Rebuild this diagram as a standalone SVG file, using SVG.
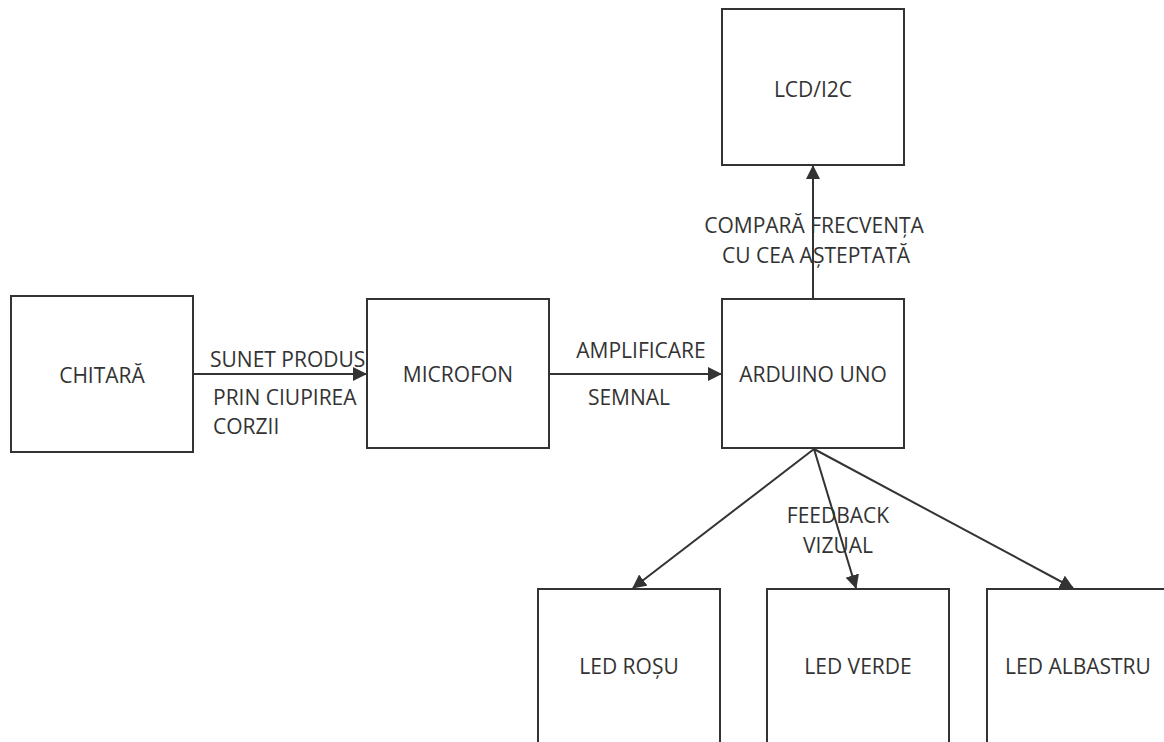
<svg xmlns="http://www.w3.org/2000/svg" width="1164" height="742" viewBox="0 0 1164 742">
<defs>
<style>
.box{fill:#fff;stroke:#333;stroke-width:2}
.t{font-family:"Open Sans","Liberation Sans",sans-serif;font-size:21px;fill:#333}
.c{text-anchor:middle}
.ln{stroke:#333;stroke-width:2;fill:none;marker-end:url(#ah)}
</style>
<marker id="ah" viewBox="0 0 14 14" refX="13" refY="7" markerWidth="14" markerHeight="14" markerUnits="userSpaceOnUse" orient="auto">
<path d="M0,0 L14,7 L0,14 z" fill="#333"/>
</marker>
</defs>
<rect width="1164" height="742" fill="#fff"/>
<g id="connectors">
<line class="ln" x1="193" y1="374" x2="366" y2="374"/>
<line class="ln" x1="549" y1="374" x2="721" y2="374"/>
<line class="ln" x1="813" y1="299" x2="813" y2="166"/>
<line class="ln" x1="814" y1="449" x2="633" y2="588"/>
<line class="ln" x1="814" y1="449" x2="856" y2="588"/>
<line class="ln" x1="814" y1="449" x2="1073" y2="588"/>
<text class="t" x="210" y="367">SUNET PRODUS</text>
<text class="t" x="213" y="405">PRIN CIUPIREA</text>
<text class="t" x="213" y="434">CORZII</text>
<text class="t c" x="641" y="358">AMPLIFICARE</text>
<text class="t c" x="629" y="405">SEMNAL</text>
<text class="t c" x="814" y="233">COMPARĂ FRECVENȚA</text>
<text class="t c" x="816" y="263">CU CEA AȘTEPTATĂ</text>
<text class="t c" x="838" y="523">FEEDBACK</text>
<text class="t c" x="838" y="553">VIZUAL</text>
</g>
<g id="chitara"><rect class="box" x="11" y="296" width="182" height="156"/><text class="t c" x="102" y="383">CHITARĂ</text></g>
<g id="microfon"><rect class="box" x="367" y="299" width="182" height="149"/><text class="t c" x="458" y="382">MICROFON</text></g>
<g id="arduino"><rect class="box" x="722" y="299" width="182" height="149"/><text class="t c" x="813" y="382">ARDUINO UNO</text></g>
<g id="lcd"><rect class="box" x="722" y="9" width="182" height="156"/><text class="t c" x="813" y="97">LCD/I2C</text></g>
<g id="led-rosu"><rect class="box" x="538" y="589" width="182" height="170"/><text class="t c" x="629" y="674">LED ROȘU</text></g>
<g id="led-verde"><rect class="box" x="767" y="589" width="182" height="170"/><text class="t c" x="858" y="674">LED VERDE</text></g>
<g id="led-albastru"><rect class="box" x="987" y="589" width="182" height="170"/><text class="t c" x="1078" y="674">LED ALBASTRU</text></g>
</svg>
